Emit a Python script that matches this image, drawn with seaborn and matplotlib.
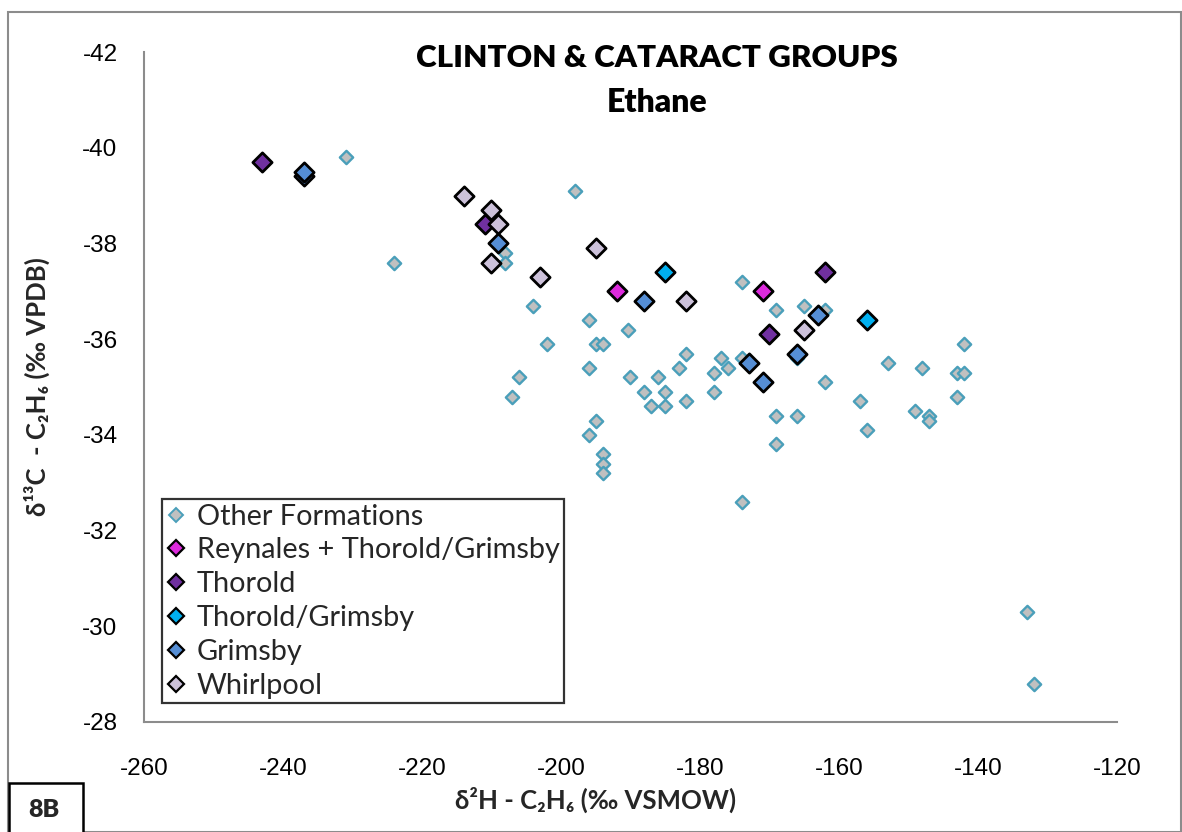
import matplotlib
matplotlib.use("Agg")
import matplotlib.pyplot as plt
from matplotlib.lines import Line2D
from matplotlib.patches import Rectangle
import seaborn as sns
import pandas as pd

# ---------------- data ----------------
other_x = [-231, -224, -198, -208, -208, -204, -196, -190.4, -202, -195, -194, -182,
           -183, -196, -206, -190, -186, -188, -185, -182, -187, -185, -207, -195,
           -196, -194, -194, -194, -174, -169, -165, -162, -177, -176, -178, -174,
           -166, -178, -162, -169, -166, -169, -174, -153, -157, -156, -148, -149,
           -147, -147, -142, -143, -142, -143, -133, -132]
other_y = [-39.8, -37.6, -39.1, -37.8, -37.6, -36.7, -36.4, -36.2, -35.9, -35.9, -35.9, -35.7,
           -35.4, -35.4, -35.2, -35.2, -35.2, -34.9, -34.9, -34.7, -34.6, -34.6, -34.8, -34.3,
           -34.0, -33.6, -33.4, -33.2, -37.2, -36.6, -36.7, -36.6, -35.6, -35.4, -35.3, -35.6,
           -35.6, -34.9, -35.1, -34.4, -34.4, -33.8, -32.6, -35.5, -34.7, -34.1, -35.4, -34.5,
           -34.4, -34.3, -35.9, -35.3, -35.3, -34.8, -30.3, -28.8]

reynales_x = [-192, -171]
reynales_y = [-37.0, -37.0]

thorold_x = [-243, -211, -162, -170]
thorold_y = [-39.7, -38.4, -37.4, -36.1]

thorold_grimsby_x = [-185, -156]
thorold_grimsby_y = [-37.4, -36.4]

grimsby_x = [-237, -237, -209, -188, -173, -171, -166, -163]
grimsby_y = [-39.4, -39.5, -38.0, -36.8, -35.5, -35.1, -35.7, -36.5]

whirlpool_x = [-214, -210, -209, -210, -203, -195, -182, -165]
whirlpool_y = [-39.0, -38.7, -38.4, -37.6, -37.3, -37.9, -36.8, -36.2]

groups = ["Other Formations", "Reynales + Thorold/Grimsby", "Thorold",
          "Thorold/Grimsby", "Grimsby", "Whirlpool"]
series_x = [other_x, reynales_x, thorold_x, thorold_grimsby_x, grimsby_x, whirlpool_x]
series_y = [other_y, reynales_y, thorold_y, thorold_grimsby_y, grimsby_y, whirlpool_y]
face_colors = ["#C0C0C0", "#DC2ADC", "#7030A0", "#00B0F0", "#558ED5", "#CCC1DA"]
edge_colors = ["#4A9FBA", "black", "black", "black", "black", "black"]

x_ticks = [-260, -240, -220, -200, -180, -160, -140, -120]
y_ticks = [-42, -40, -38, -36, -34, -32, -30, -28]

# ---------------- figure ----------------
sns.set_theme(style="white")
plt.rcParams["font.family"] = ["Liberation Sans", "DejaVu Sans"]
CAL = ["Lato", "DejaVu Sans"]

fig = plt.figure(figsize=(11.82, 8.32), dpi=100)
ax = fig.add_axes([144 / 1182, 1 - 722 / 832, (1117 - 144) / 1182, (722 - 52) / 832])

for i, g in enumerate(groups):
    df = pd.DataFrame({"x": series_x[i], "y": series_y[i]})
    if i == 0:
        sns.scatterplot(data=df, x="x", y="y", ax=ax, marker="D", s=46,
                        color=face_colors[i], edgecolor=edge_colors[i],
                        linewidth=1.7, legend=False, zorder=3)
    else:
        sns.scatterplot(data=df, x="x", y="y", ax=ax, marker="D", s=96,
                        color=face_colors[i], edgecolor=edge_colors[i],
                        linewidth=2.0, legend=False, zorder=4 + i)

ax.set_xlim(-260, -120)
ax.set_ylim(-28, -42)
ax.set_xticks(x_ticks)
ax.set_yticks(y_ticks)
ax.set_xticklabels([str(v) for v in x_ticks], fontsize=17.5)
ax.set_yticklabels([str(v) for v in y_ticks], fontsize=17.5)

for side in ["top", "right"]:
    ax.spines[side].set_visible(False)
for side in ["left", "bottom"]:
    ax.spines[side].set_color("#8C8C8C")
    ax.spines[side].set_linewidth(1.5)
ax.tick_params(axis="both", which="major", direction="inout", length=14,
               width=1.3, color="#8C8C8C", labelcolor="black")
ax.tick_params(axis="x", pad=19)
ax.tick_params(axis="y", pad=12)
ax.grid(False)

ax.set_xlabel("δ²H - C₂H₆ (‰ VSMOW)", fontsize=18.5, fontweight="bold", family=CAL)
ax.xaxis.set_label_coords((596 - 144) / 973, -(787 - 722) / 670)
ax.set_ylabel("δ¹³C  - C₂H₆ (‰ VPDB)", fontsize=18.5, fontweight="bold", family=CAL)
ax.yaxis.set_label_coords(-(144 - 50) / 973, 0.5)

fig.text(657 / 1182, 1 - 58 / 832, "CLINTON & CATARACT GROUPS", ha="center",
         va="center", fontsize=22.6, fontweight="heavy", family=CAL, color="black")
fig.text(657 / 1182, 1 - 103 / 832, "Ethane", ha="center", va="center",
         fontsize=23, fontweight="heavy", family=CAL, color="black")

# legend
handles = []
for i, g in enumerate(groups):
    ms = 7.0 if i == 0 else 8.6
    mew = 1.4 if i == 0 else 1.6
    handles.append(Line2D([], [], linestyle="none", marker="D", markersize=ms,
                          markerfacecolor=face_colors[i], markeredgecolor=edge_colors[i],
                          markeredgewidth=mew, label=g))
leg = ax.legend(handles=handles, loc="lower left",
                bbox_to_anchor=((162 - 144) / 973, (722 - 703) / 670),
                borderaxespad=0, frameon=True, fancybox=False,
                prop={"family": CAL, "size": 20.8},
                handlelength=0.7, handletextpad=0.35, labelspacing=0.27,
                borderpad=0.15)
leg.get_frame().set_edgecolor("black")
leg.get_frame().set_linewidth(1.6)
leg.get_frame().set_facecolor("white")
leg.set_zorder(20)

# figure border
fig.patches.append(Rectangle((8 / 1182, 0.0), (1181 - 8) / 1182, 1 - 12 / 832,
                             transform=fig.transFigure, fill=False,
                             edgecolor="#8C8C8C", linewidth=1.5))
# 8B box
fig.patches.append(Rectangle((9 / 1182, -0.01), (83 - 9) / 1182, (832 - 783) / 832 + 0.01,
                             transform=fig.transFigure, fill=True, facecolor="white",
                             edgecolor="black", linewidth=1.8, zorder=5))
fig.text(44 / 1182, 1 - 810 / 832, "8B", ha="center", va="center", fontsize=18,
         fontweight="heavy", family=CAL, zorder=6)

fig.savefig("out.png", dpi=100)
